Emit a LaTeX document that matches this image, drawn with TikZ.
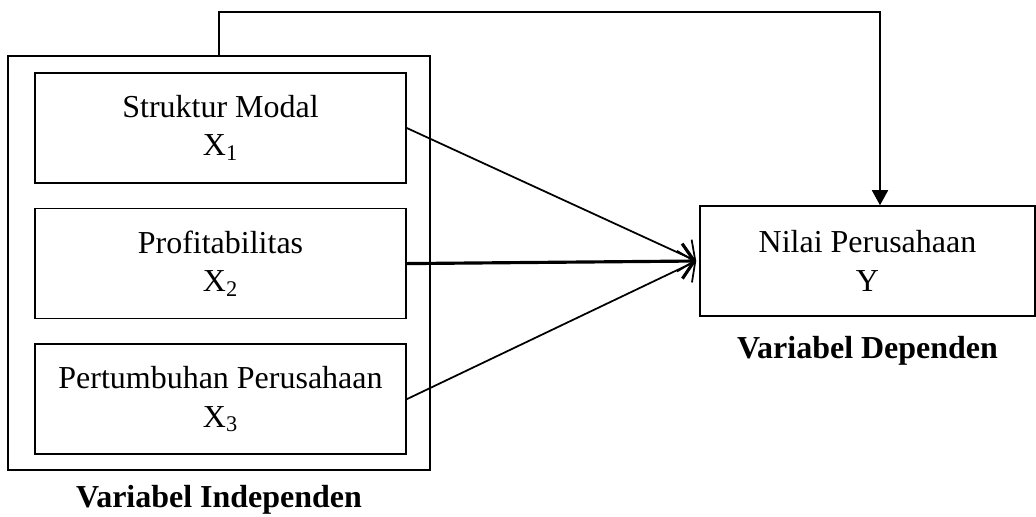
\documentclass[tikz,border=0pt]{standalone}
\usepackage{fontspec}
\setmainfont{Liberation Serif}
\usetikzlibrary{positioning,arrows.meta}

\begin{document}
\begin{tikzpicture}[
  node distance=4.8mm,
  var/.style={draw,line width=0.9pt,minimum width=7.42cm,minimum height=2.2cm,
              align=center,font=\fontsize{18.2}{21.8}\selectfont},
  grp/.style={draw,line width=0.9pt,minimum width=8.44cm,minimum height=8.28cm},
  lbl/.style={font=\fontsize{18.2}{21.8}\selectfont\bfseries},
  fl/.style={-{Straight Barb[length=2.4mm,width=7mm]},line width=1pt},
  tri/.style={-{Triangle[length=3mm,width=3.2mm]},line width=1pt}]
\useasboundingbox (0,0) rectangle (20.72,-10.32);
\node[grp] (indep) at (4.38,-5.26) {};
\node[var] (x1) at (4.41,-2.56) {Struktur Modal\\X\textsubscript{1}};
\node[var,below=of x1] (x2) {Profitabilitas\\X\textsubscript{2}};
\node[var,below=of x2] (x3) {Pertumbuhan Perusahaan\\X\textsubscript{3}};
\node[var,minimum width=6.7cm] (dep) at (17.35,-5.22) {Nilai Perusahaan\\Y};
\node[lbl,below=1.6mm of indep] (lindep) {Variabel Independen};
\node[lbl,below=2.7mm of dep] (ldep) {Variabel Dependen};
\draw[fl] (x1.east) -- ([xshift=-0.6mm]dep.west);
\draw[fl,line width=1.8pt] (x2.east) -- ([xshift=-0.6mm]dep.west);
\draw[fl] (x3.east) -- ([xshift=-0.6mm]dep.west);
\draw[tri] (indep.north) -- ++(0,0.86) -| ([xshift=2.5mm]dep.north);
\end{tikzpicture}
\end{document}
